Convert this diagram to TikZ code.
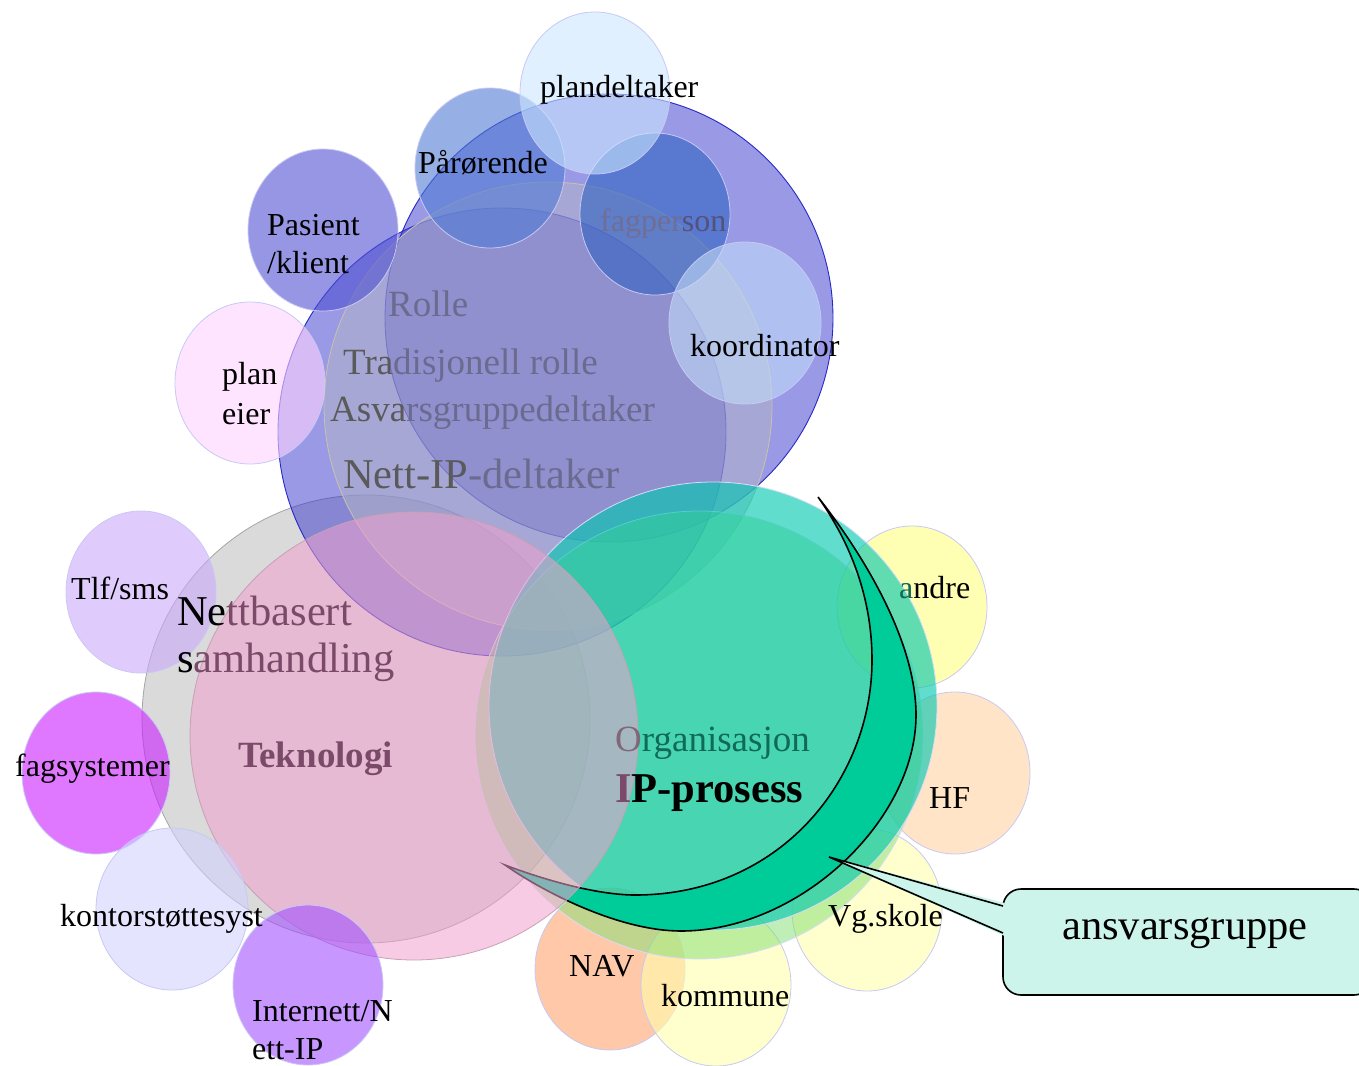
\documentclass[tikz,border=0pt]{standalone}
\usepackage{fontspec}
\setmainfont{Liberation Serif}
\definecolor{smline}{RGB}{200,200,245}
\definecolor{cN}{RGB}{218,218,218}
\definecolor{cNline}{RGB}{165,165,165}
\definecolor{cBlue}{RGB}{51,51,204}
\definecolor{cBlueline}{RGB}{40,40,200}
\definecolor{cRing}{RGB}{180,180,200}
\definecolor{cRingline}{RGB}{200,195,170}
\definecolor{cA}{RGB}{0,200,175}
\definecolor{cB}{RGB}{128,224,112}
\definecolor{cAline}{RGB}{215,220,250}
\definecolor{cP}{RGB}{240,160,205}
\definecolor{cPline}{RGB}{200,160,180}
\definecolor{cres}{RGB}{0,204,153}
\definecolor{callfill}{RGB}{204,244,234}
\definecolor{fPlandel}{RGB}{203,230,255}
\definecolor{fPaar}{RGB}{80,123,213}
\definecolor{fPasient}{RGB}{80,80,210}
\definecolor{fFag}{RGB}{48,98,193}
\definecolor{fKoord}{RGB}{192,218,247}
\definecolor{fPlaneier}{RGB}{255,210,255}
\definecolor{fTlf}{RGB}{203,170,250}
\definecolor{fFagsys}{RGB}{203,30,255}
\definecolor{fKontor}{RGB}{210,210,255}
\definecolor{fInternett}{RGB}{163,80,255}
\definecolor{fAndre}{RGB}{255,255,130}
\definecolor{fHF}{RGB}{255,210,163}
\definecolor{fVg}{RGB}{255,255,172}
\definecolor{fNAV}{RGB}{255,163,110}
\definecolor{fKommune}{RGB}{255,255,172}
\definecolor{tGray}{RGB}{90,90,90}
\definecolor{tPurp}{RGB}{107,107,143}
\definecolor{tFag}{RGB}{110,110,150}
\definecolor{tFagD}{RGB}{82,82,122}
\definecolor{tMauve}{RGB}{122,74,104}
\definecolor{tTealD}{RGB}{16,106,85}
\definecolor{tO}{RGB}{128,104,120}
\begin{document}
\begin{tikzpicture}[x=1pt,y=-1pt,
  sm/.style={draw=smline, line width=0.8pt, fill opacity=0.6},
  lbl/.style={inner sep=0pt, anchor=west, font=\fontsize{32}{36}\selectfont},
  mid/.style={inner sep=0pt, anchor=west, font=\fontsize{37}{42}\selectfont},
  lrg/.style={inner sep=0pt, anchor=west, font=\fontsize{42.5}{48}\selectfont}]
\useasboundingbox (0,0) rectangle (1359,1065);
\begin{scope}
\clip (0,0) rectangle (1359,1065);
% Nettbasert (gray) circle
\draw[fill=cN, draw=cNline, line width=0.8pt] (366,719) circle (224pt);
% Rolle blue circles and ring
\draw[fill=cBlue, fill opacity=0.5, draw=cBlueline, line width=0.9pt] (502,432) circle (224pt);
\draw[fill=cBlue, fill opacity=0.5, draw=cBlueline, line width=0.9pt] (609,318) circle (224pt);
\draw[fill=cRing, fill opacity=0.55, draw=cRingline, line width=0.8pt] (548,406) circle (224pt);
% right small circles
\draw[sm, fill=fAndre] (912,607) ellipse [x radius=75pt, y radius=81pt];
\draw[sm, fill=fHF] (955,773) ellipse [x radius=75pt, y radius=81pt];
\draw[sm, fill=fVg] (867,910) ellipse [x radius=75pt, y radius=81pt];
\draw[sm, fill=fNAV] (610,969) ellipse [x radius=75pt, y radius=81pt];
\draw[sm, fill=fKommune] (716,985) ellipse [x radius=75pt, y radius=81pt];
% Organisasjon circles
\draw[fill=cB, fill opacity=0.5, draw=cAline, line width=0.8pt] (699,735) circle (224pt);
\draw[fill=cA, fill opacity=0.62, draw=cAline, line width=0.8pt] (713,706) circle (224pt);
% crescent
\draw[fill=cres, line width=1.6pt, line join=miter]
  (818,497) .. controls (862,553) and (916,640) .. (916,715)
  .. controls (916,820) and (800,931) .. (681,931)
  .. controls (620,931) and (545,893) .. (505,865)
  .. controls (550,882) and (600,895) .. (635,895)
  .. controls (780,895) and (872,780) .. (872,660)
  .. controls (872,590) and (845,535) .. (818,497) -- cycle;
% Teknologi (pink) circle
\draw[fill=cP, fill opacity=0.55, draw=cPline, line width=0.8pt] (414,736) circle (224pt);
% top small circles
\draw[sm, fill=fPasient] (323,230) ellipse [x radius=75pt, y radius=81pt];
\draw[sm, fill=fPaar] (490,168) ellipse [x radius=75pt, y radius=80pt];
\draw[sm, fill=fFag] (655,214) ellipse [x radius=75pt, y radius=81pt];
\draw[sm, fill=fPlandel] (595,93) ellipse [x radius=75pt, y radius=81pt];
\draw[sm, fill=fKoord] (745,323) ellipse [x radius=76pt, y radius=81pt];
\draw[sm, fill=fPlaneier] (250,383) ellipse [x radius=75pt, y radius=81pt];
% left small circles
\draw[sm, fill=fTlf] (141,592) ellipse [x radius=75pt, y radius=81pt];
\draw[sm, fill=fFagsys] (96,773) ellipse [x radius=74pt, y radius=81pt];
\draw[sm, fill=fKontor] (172,909) ellipse [x radius=76pt, y radius=81pt];
\draw[sm, fill=fInternett] (308,985) ellipse [x radius=75pt, y radius=80pt];
% callout
\draw[fill=callfill, line width=1.6pt, rounded corners=18] (1003,889) rectangle (1372,995);
\fill[callfill] (829,857) -- (1004.6,903) -- (1004.6,936) -- cycle;
\draw[line width=1.6pt, line join=miter] (1003,906) -- (829,857) -- (1003,933);
\end{scope}
% texts
\node[lbl] (t-plandel) at (540,90) {plandeltaker};
\node[lbl] (t-paar) at (418,163) {Pårørende};
\node[lbl] (t-pas1) at (267,225) {Pasient};
\node[lbl] (t-pas2) at (267,263) {/klient};
\node[lbl] (t-fag) at (600,224) {\textcolor{tFag}{fagper}\textcolor{tFagD}{son}};
\node[mid] (t-rolle) at (388,304) {\textcolor{tPurp}{Rolle}};
\node[lbl] (t-koord) at (690,346) {koordinator};
\node[lbl] (t-plan1) at (222,377) {plan};
\node[lbl] (t-plan2) at (222,414) {eier};
\node[mid] (t-trad) at (343,366) {\textcolor{tGray}{Tra}\textcolor{tPurp}{disjonell rolle}};
\node[mid] (t-asv) at (330,413) {\textcolor{tGray}{Asva}\textcolor{tPurp}{rsgruppedeltaker}};
\node[lrg] (t-nettip) at (343,474) {\textcolor{tGray}{Nett-IP}\textcolor{tPurp}{-deltaker}};
\node[lbl] (t-tlf) at (71,588) {Tlf/sms};
\node[lrg] (t-nett1) at (177,611) {Ne\textcolor{tMauve}{ttbasert}};
\node[lrg] (t-nett2) at (177,662) {s\textcolor{tMauve}{amhandling}};
\node[lbl] (t-andre) at (899,588) {\textcolor{tTealD}{a}ndre};
\node[mid] (t-org) at (615,743) {\textcolor{tO}{O}\textcolor{tTealD}{rganisasjon}};
\node[lbl] (t-fagsys) at (15,769) {fagsystemer};
\node[mid, font=\fontsize{37}{42}\selectfont\bfseries] (t-tek) at (238,759) {\textcolor{tMauve}{Teknologi}};
\node[lrg, font=\fontsize{42.5}{48}\selectfont\bfseries] (t-ipp) at (615,793) {\textcolor{tMauve}{I}P-prosess};
\node[lbl] (t-hf) at (929,798) {HF};
\node[lbl] (t-kontor) at (60,919) {kontorstøttesyst};
\node[lbl] (t-vg) at (828,919) {Vg.skole};
\node[lrg] (t-ansv) at (1062,933) {ansvarsgruppe};
\node[lbl] (t-nav) at (569,966) {NAV};
\node[lbl] (t-komm) at (661,996) {kommune};
\node[lbl] (t-int1) at (252,1011) {Internett/N};
\node[lbl] (t-int2) at (252,1049) {ett-IP};
\end{tikzpicture}
\end{document}
